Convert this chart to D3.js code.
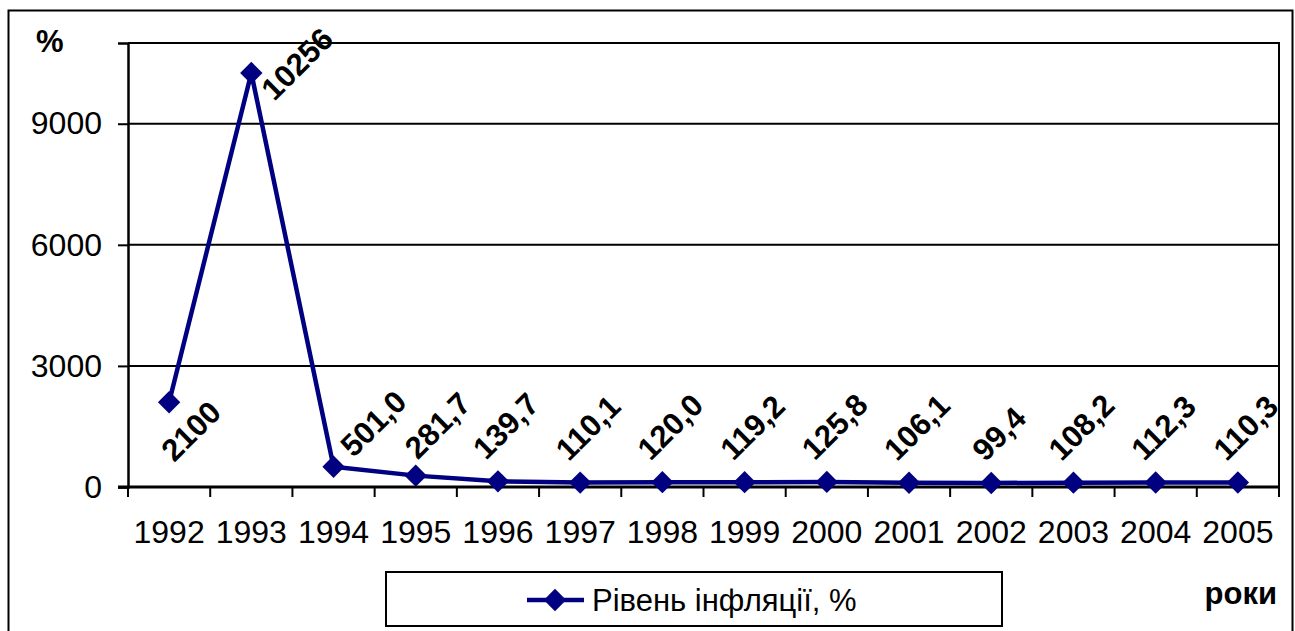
<!DOCTYPE html>
<html>
<head>
<meta charset="utf-8">
<script src="https://cdn.jsdelivr.net/npm/d3@7"></script>
<style>
  body { margin: 0; background: #fff; }
  text { font-family: "Liberation Sans", Arial, sans-serif; fill: #000; }
</style>
</head>
<body>
<div id="chart"></div>
<script>
// ========== Data ==========
const years = ["1992", "1993", "1994", "1995", "1996", "1997", "1998",
  "1999", "2000", "2001", "2002", "2003", "2004", "2005"];
const inflation = [2100, 10256, 501.0, 281.7, 139.7, 110.1, 120.0,
  119.2, 125.8, 106.1, 99.4, 108.2, 112.3, 110.3];
const valueLabels = ["2100", "10256", "501,0", "281,7", "139,7", "110,1", "120,0",
  "119,2", "125,8", "106,1", "99,4", "108,2", "112,3", "110,3"];
const yTicks = [0, 3000, 6000, 9000];
const seriesName = "Рівень інфляції, %";

// ========== Render ==========
const width = 1295;
const height = 631;
const plot = { left: 128, top: 43, right: 1279, bottom: 487 };
const navy = "#000080";

const svg = d3.select("#chart").append("svg")
  .attr("width", width)
  .attr("height", height);

// outer frame
svg.append("rect")
  .attr("x", 8.5).attr("y", 10.5)
  .attr("width", 1284).attr("height", 640)
  .attr("fill", "none").attr("stroke", "#000").attr("stroke-width", 2);

const x = d3.scaleBand()
  .domain(years)
  .range([plot.left, plot.right])
  .padding(0);

const y = d3.scaleLinear()
  .domain([0, 11000])
  .range([plot.bottom, plot.top]);

// gridlines
svg.append("g")
  .selectAll("line")
  .data(yTicks.filter((d) => d > 0))
  .join("line")
  .attr("x1", plot.left).attr("x2", plot.right)
  .attr("y1", (d) => y(d)).attr("y2", (d) => y(d))
  .attr("stroke", "#000").attr("stroke-width", 2);

// plot area top/right border
svg.append("path")
  .attr("d", `M${plot.left},${plot.top}H${plot.right}V${plot.bottom}`)
  .attr("fill", "none").attr("stroke", "#000").attr("stroke-width", 2);

// y axis
const yAxis = svg.append("g")
  .attr("transform", `translate(${plot.left},0)`)
  .call(d3.axisLeft(y).tickValues(yTicks).tickSize(10).tickPadding(16).tickFormat(d3.format("d")));
yAxis.select(".domain").attr("stroke", "#000").attr("stroke-width", 2.5);
yAxis.selectAll(".tick line").attr("stroke", "#000").attr("stroke-width", 2);
yAxis.selectAll(".tick text")
  .style("font-size", "32px")
  .style("font-family", "'Liberation Sans', Arial, sans-serif")
  .attr("fill", "#000");

// x axis
const xAxis = svg.append("g")
  .attr("transform", `translate(0,${plot.bottom})`)
  .call(d3.axisBottom(x).tickSize(0).tickPadding(0));
xAxis.select(".domain").remove();
xAxis.selectAll(".tick text")
  .attr("y", 56)
  .attr("dy", 0)
  .style("font-size", "32px")
  .style("font-family", "'Liberation Sans', Arial, sans-serif")
  .attr("fill", "#000");

svg.append("line")
  .attr("x1", plot.left - 10).attr("x2", plot.right)
  .attr("y1", plot.bottom).attr("y2", plot.bottom)
  .attr("stroke", "#000").attr("stroke-width", 3);

// category boundary ticks
const bounds = years.map((d) => x(d)).concat([x(years[years.length - 1]) + x.bandwidth()]);
svg.append("g")
  .selectAll("line")
  .data(bounds)
  .join("line")
  .attr("x1", (d) => d).attr("x2", (d) => d)
  .attr("y1", plot.bottom).attr("y2", plot.bottom + 10)
  .attr("stroke", "#000").attr("stroke-width", 2);

// series line
const cx = (i) => x(years[i]) + x.bandwidth() / 2;
const line = d3.line()
  .x((d, i) => cx(i))
  .y((d) => y(d));

svg.append("path")
  .datum(inflation)
  .attr("fill", "none")
  .attr("stroke", navy)
  .attr("stroke-width", 4.5)
  .attr("stroke-linejoin", "round")
  .attr("d", line);

const diamond = d3.symbol().type(d3.symbolSquare).size(250);
svg.append("g")
  .selectAll("path")
  .data(inflation)
  .join("path")
  .attr("d", diamond)
  .attr("transform", (d, i) => `translate(${cx(i)},${y(d)}) rotate(45)`)
  .attr("fill", navy);

// data labels, rotated -45
const labelNudge = {
  "1992": { dx: 22, dy: 29 },
  "1993": { dx: 46, dy: -9 },
  "1994": { dx: 40, dy: -43 },
  "1995": { dx: 22, dy: -50 }
};
const labels = svg.append("g")
  .selectAll("text")
  .data(inflation)
  .join("text")
  .attr("text-anchor", "middle")
  .attr("dominant-baseline", "central")
  .style("font-size", "31px")
  .style("font-weight", "bold")
  .text((d, i) => valueLabels[i]);

labels.attr("transform", function (d, i) {
  const len = this.getComputedTextLength();
  const box = (len + 22) / Math.SQRT2;
  const n = labelNudge[years[i]];
  const px = cx(i);
  const py = y(d);
  const lx = n ? px + n.dx : px + 8;
  const ly = n ? py + n.dy : py - 20 - box / 2;
  return `translate(${lx},${ly}) rotate(-45)`;
});

// axis titles
svg.append("text")
  .attr("x", 36).attr("y", 52)
  .style("font-size", "31px").style("font-weight", "bold")
  .text("%");

svg.append("text")
  .attr("x", 1277).attr("y", 604)
  .attr("text-anchor", "end")
  .style("font-size", "31px").style("font-weight", "bold")
  .text("роки");

// legend
const legend = svg.append("g");
legend.append("rect")
  .attr("x", 386).attr("y", 572)
  .attr("width", 616).attr("height", 54)
  .attr("fill", "#fff").attr("stroke", "#000").attr("stroke-width", 2);
legend.append("line")
  .attr("x1", 527).attr("x2", 584)
  .attr("y1", 600).attr("y2", 600)
  .attr("stroke", navy).attr("stroke-width", 4.5);
legend.append("path")
  .attr("d", diamond)
  .attr("transform", "translate(555,600) rotate(45)")
  .attr("fill", navy);
legend.append("text")
  .attr("x", 592).attr("y", 600)
  .attr("dominant-baseline", "central")
  .style("font-size", "31px")
  .text(seriesName);
</script>
</body>
</html>
